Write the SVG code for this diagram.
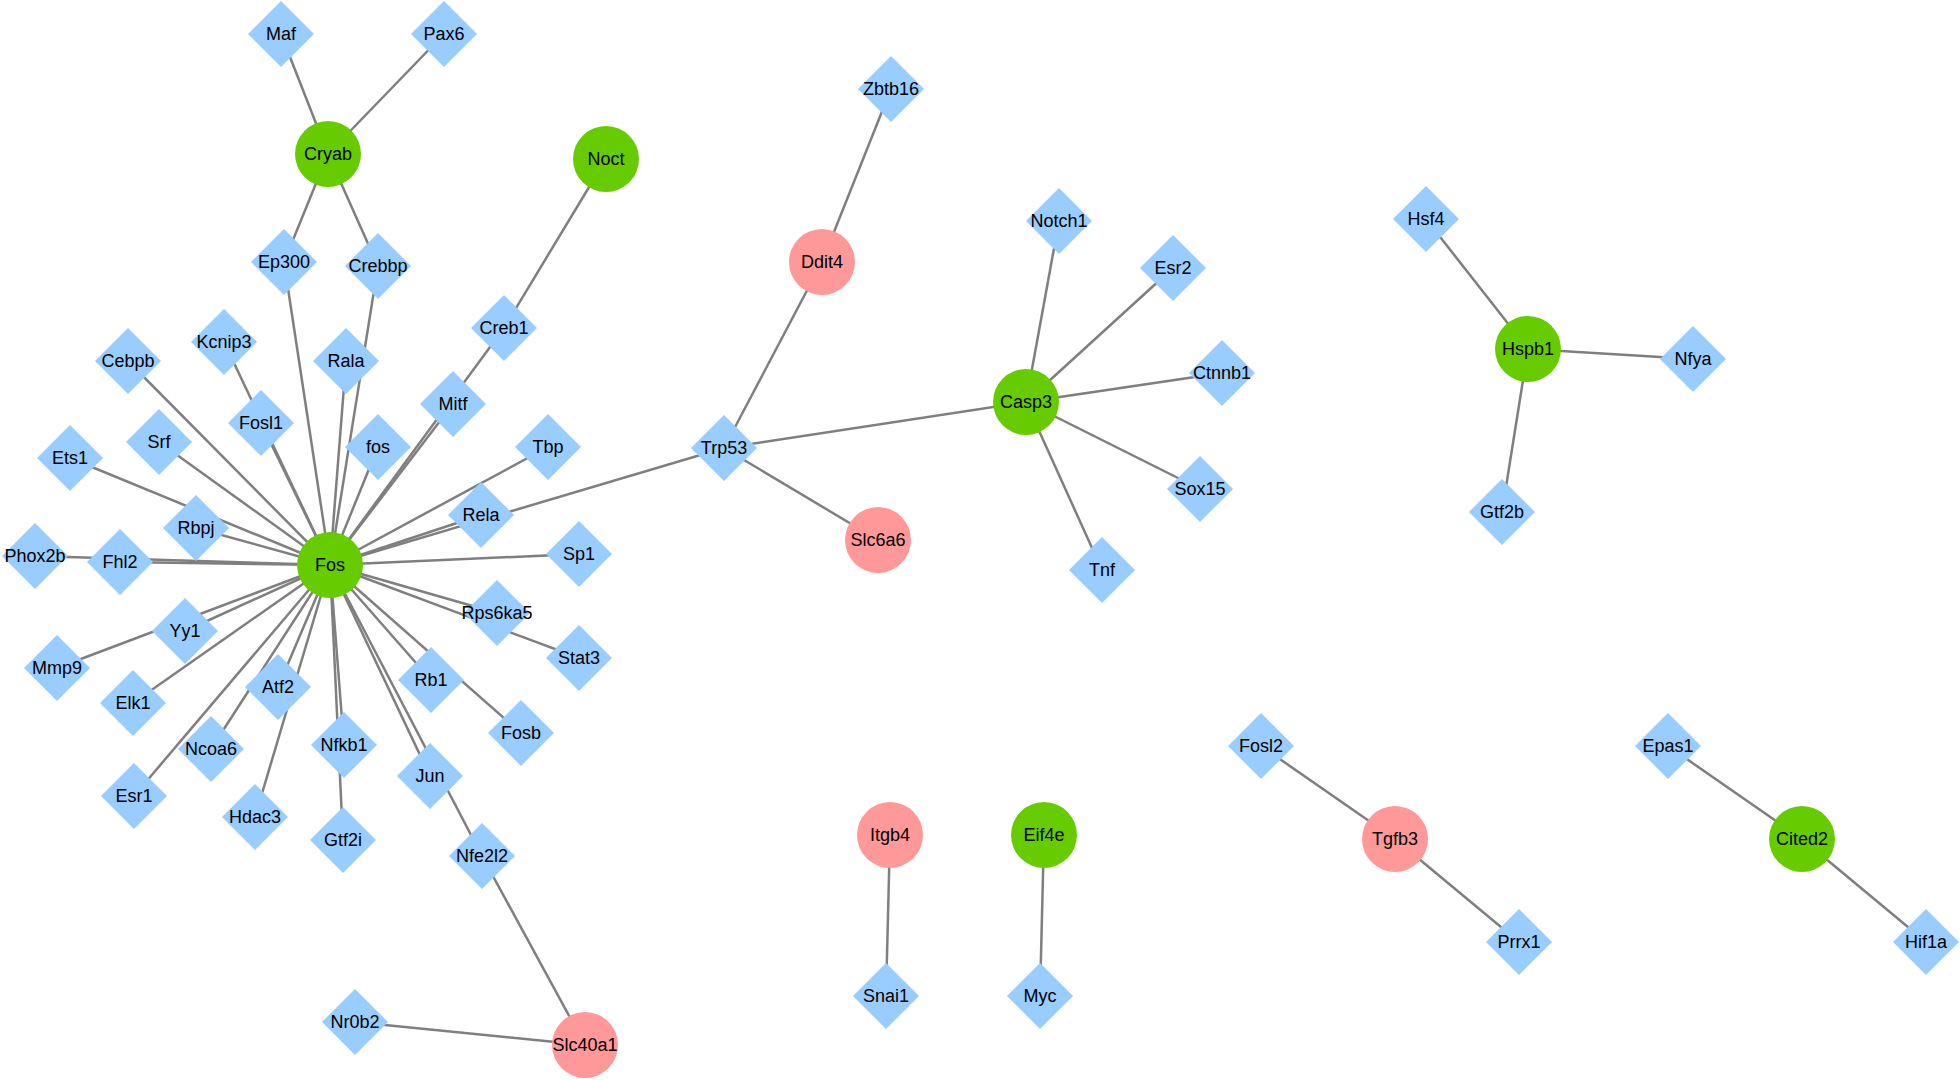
<svg xmlns="http://www.w3.org/2000/svg" xmlns:xlink="http://www.w3.org/1999/xlink" width="1960" height="1080" viewBox="0 0 1960 1080">
<style>
.e{stroke:#7f7f7f;stroke-width:2.5;fill:none}
.d{fill:#99ccff}
.g{fill:#66cc00}
.p{fill:#ff9999}
text{font-family:"Liberation Sans",Arial,sans-serif;font-size:18px;fill:#000;text-anchor:middle;dominant-baseline:central}
</style>
<defs>
<polygon id="dia" points="0,-33 33,0 0,33 -33,0"/>
<circle id="cir" r="33"/>
</defs>
<rect width="1960" height="1080" fill="#fff"/>
<g id="edges" class="e">
<line x1="328" y1="154" x2="281" y2="34"/>
<line x1="328" y1="154" x2="444" y2="34"/>
<line x1="328" y1="154" x2="284" y2="262"/>
<line x1="328" y1="154" x2="378" y2="266"/>
<line x1="606" y1="159" x2="504" y2="328"/>
<line x1="330" y1="565" x2="284" y2="262"/>
<line x1="330" y1="565" x2="378" y2="266"/>
<line x1="330" y1="565" x2="346" y2="361"/>
<line x1="330" y1="565" x2="224" y2="342"/>
<line x1="330" y1="565" x2="261" y2="423"/>
<line x1="330" y1="565" x2="128" y2="361"/>
<line x1="330" y1="565" x2="159" y2="442"/>
<line x1="330" y1="565" x2="378" y2="447"/>
<line x1="330" y1="565" x2="453" y2="404"/>
<line x1="330" y1="565" x2="504" y2="328"/>
<line x1="330" y1="565" x2="548" y2="447"/>
<line x1="330" y1="565" x2="481" y2="515"/>
<line x1="330" y1="565" x2="724" y2="448"/>
<line x1="330" y1="565" x2="579" y2="554"/>
<line x1="330" y1="565" x2="497" y2="613"/>
<line x1="330" y1="565" x2="579" y2="658"/>
<line x1="330" y1="565" x2="431" y2="680"/>
<line x1="330" y1="565" x2="521" y2="733"/>
<line x1="330" y1="565" x2="430" y2="776"/>
<line x1="330" y1="565" x2="482" y2="856"/>
<line x1="330" y1="565" x2="344" y2="745"/>
<line x1="330" y1="565" x2="343" y2="840"/>
<line x1="330" y1="565" x2="278" y2="687"/>
<line x1="330" y1="565" x2="255" y2="817"/>
<line x1="330" y1="565" x2="211" y2="749"/>
<line x1="330" y1="565" x2="134" y2="796"/>
<line x1="330" y1="565" x2="133" y2="703"/>
<line x1="330" y1="565" x2="185" y2="631"/>
<line x1="330" y1="565" x2="57" y2="668"/>
<line x1="330" y1="565" x2="120" y2="562"/>
<line x1="330" y1="565" x2="35" y2="556"/>
<line x1="330" y1="565" x2="196" y2="528"/>
<line x1="330" y1="565" x2="70" y2="458"/>
<line x1="482" y1="856" x2="585" y2="1045"/>
<line x1="355" y1="1022" x2="585" y2="1045"/>
<line x1="724" y1="448" x2="822" y2="262"/>
<line x1="822" y1="262" x2="891" y2="89"/>
<line x1="724" y1="448" x2="878" y2="540"/>
<line x1="724" y1="448" x2="1026" y2="402"/>
<line x1="1026" y1="402" x2="1059" y2="221"/>
<line x1="1026" y1="402" x2="1173" y2="268"/>
<line x1="1026" y1="402" x2="1222" y2="373"/>
<line x1="1026" y1="402" x2="1200" y2="489"/>
<line x1="1026" y1="402" x2="1102" y2="570"/>
<line x1="1528" y1="349" x2="1426" y2="219"/>
<line x1="1528" y1="349" x2="1693" y2="359"/>
<line x1="1528" y1="349" x2="1502" y2="512"/>
<line x1="890" y1="835" x2="886" y2="996"/>
<line x1="1044" y1="835" x2="1040" y2="996"/>
<line x1="1395" y1="839" x2="1261" y2="746"/>
<line x1="1395" y1="839" x2="1519" y2="942"/>
<line x1="1802" y1="839" x2="1668" y2="746"/>
<line x1="1802" y1="839" x2="1926" y2="942"/>
</g>
<g id="n-Maf" transform="translate(281,34)"><use xlink:href="#dia" class="d"/><text>Maf</text></g>
<g id="n-Pax6" transform="translate(444,34)"><use xlink:href="#dia" class="d"/><text>Pax6</text></g>
<g id="n-Cryab" transform="translate(328,154)"><use xlink:href="#cir" class="g"/><text>Cryab</text></g>
<g id="n-Noct" transform="translate(606,159)"><use xlink:href="#cir" class="g"/><text>Noct</text></g>
<g id="n-Ep300" transform="translate(284,262)"><use xlink:href="#dia" class="d"/><text>Ep300</text></g>
<g id="n-Crebbp" transform="translate(378,266)"><use xlink:href="#dia" class="d"/><text>Crebbp</text></g>
<g id="n-Creb1" transform="translate(504,328)"><use xlink:href="#dia" class="d"/><text>Creb1</text></g>
<g id="n-Kcnip3" transform="translate(224,342)"><use xlink:href="#dia" class="d"/><text>Kcnip3</text></g>
<g id="n-Cebpb" transform="translate(128,361)"><use xlink:href="#dia" class="d"/><text>Cebpb</text></g>
<g id="n-Rala" transform="translate(346,361)"><use xlink:href="#dia" class="d"/><text>Rala</text></g>
<g id="n-Mitf" transform="translate(453,404)"><use xlink:href="#dia" class="d"/><text>Mitf</text></g>
<g id="n-Fosl1" transform="translate(261,423)"><use xlink:href="#dia" class="d"/><text>Fosl1</text></g>
<g id="n-Srf" transform="translate(159,442)"><use xlink:href="#dia" class="d"/><text>Srf</text></g>
<g id="n-fos" transform="translate(378,447)"><use xlink:href="#dia" class="d"/><text>fos</text></g>
<g id="n-Tbp" transform="translate(548,447)"><use xlink:href="#dia" class="d"/><text>Tbp</text></g>
<g id="n-Ets1" transform="translate(70,458)"><use xlink:href="#dia" class="d"/><text>Ets1</text></g>
<g id="n-Rbpj" transform="translate(196,528)"><use xlink:href="#dia" class="d"/><text>Rbpj</text></g>
<g id="n-Rela" transform="translate(481,515)"><use xlink:href="#dia" class="d"/><text>Rela</text></g>
<g id="n-Phox2b" transform="translate(35,556)"><use xlink:href="#dia" class="d"/><text>Phox2b</text></g>
<g id="n-Fhl2" transform="translate(120,562)"><use xlink:href="#dia" class="d"/><text>Fhl2</text></g>
<g id="n-Sp1" transform="translate(579,554)"><use xlink:href="#dia" class="d"/><text>Sp1</text></g>
<g id="n-Rps6ka5" transform="translate(497,613)"><use xlink:href="#dia" class="d"/><text>Rps6ka5</text></g>
<g id="n-Yy1" transform="translate(185,631)"><use xlink:href="#dia" class="d"/><text>Yy1</text></g>
<g id="n-Stat3" transform="translate(579,658)"><use xlink:href="#dia" class="d"/><text>Stat3</text></g>
<g id="n-Mmp9" transform="translate(57,668)"><use xlink:href="#dia" class="d"/><text>Mmp9</text></g>
<g id="n-Rb1" transform="translate(431,680)"><use xlink:href="#dia" class="d"/><text>Rb1</text></g>
<g id="n-Atf2" transform="translate(278,687)"><use xlink:href="#dia" class="d"/><text>Atf2</text></g>
<g id="n-Elk1" transform="translate(133,703)"><use xlink:href="#dia" class="d"/><text>Elk1</text></g>
<g id="n-Fosb" transform="translate(521,733)"><use xlink:href="#dia" class="d"/><text>Fosb</text></g>
<g id="n-Ncoa6" transform="translate(211,749)"><use xlink:href="#dia" class="d"/><text>Ncoa6</text></g>
<g id="n-Nfkb1" transform="translate(344,745)"><use xlink:href="#dia" class="d"/><text>Nfkb1</text></g>
<g id="n-Jun" transform="translate(430,776)"><use xlink:href="#dia" class="d"/><text>Jun</text></g>
<g id="n-Esr1" transform="translate(134,796)"><use xlink:href="#dia" class="d"/><text>Esr1</text></g>
<g id="n-Hdac3" transform="translate(255,817)"><use xlink:href="#dia" class="d"/><text>Hdac3</text></g>
<g id="n-Gtf2i" transform="translate(343,840)"><use xlink:href="#dia" class="d"/><text>Gtf2i</text></g>
<g id="n-Nfe2l2" transform="translate(482,856)"><use xlink:href="#dia" class="d"/><text>Nfe2l2</text></g>
<g id="n-Fos" transform="translate(330,565)"><use xlink:href="#cir" class="g"/><text>Fos</text></g>
<g id="n-Nr0b2" transform="translate(355,1022)"><use xlink:href="#dia" class="d"/><text>Nr0b2</text></g>
<g id="n-Slc40a1" transform="translate(585,1045)"><use xlink:href="#cir" class="p"/><text>Slc40a1</text></g>
<g id="n-Zbtb16" transform="translate(891,89)"><use xlink:href="#dia" class="d"/><text>Zbtb16</text></g>
<g id="n-Ddit4" transform="translate(822,262)"><use xlink:href="#cir" class="p"/><text>Ddit4</text></g>
<g id="n-Notch1" transform="translate(1059,221)"><use xlink:href="#dia" class="d"/><text>Notch1</text></g>
<g id="n-Esr2" transform="translate(1173,268)"><use xlink:href="#dia" class="d"/><text>Esr2</text></g>
<g id="n-Ctnnb1" transform="translate(1222,373)"><use xlink:href="#dia" class="d"/><text>Ctnnb1</text></g>
<g id="n-Casp3" transform="translate(1026,402)"><use xlink:href="#cir" class="g"/><text>Casp3</text></g>
<g id="n-Trp53" transform="translate(724,448)"><use xlink:href="#dia" class="d"/><text>Trp53</text></g>
<g id="n-Sox15" transform="translate(1200,489)"><use xlink:href="#dia" class="d"/><text>Sox15</text></g>
<g id="n-Slc6a6" transform="translate(878,540)"><use xlink:href="#cir" class="p"/><text>Slc6a6</text></g>
<g id="n-Tnf" transform="translate(1102,570)"><use xlink:href="#dia" class="d"/><text>Tnf</text></g>
<g id="n-Hsf4" transform="translate(1426,219)"><use xlink:href="#dia" class="d"/><text>Hsf4</text></g>
<g id="n-Hspb1" transform="translate(1528,349)"><use xlink:href="#cir" class="g"/><text>Hspb1</text></g>
<g id="n-Nfya" transform="translate(1693,359)"><use xlink:href="#dia" class="d"/><text>Nfya</text></g>
<g id="n-Gtf2b" transform="translate(1502,512)"><use xlink:href="#dia" class="d"/><text>Gtf2b</text></g>
<g id="n-Itgb4" transform="translate(890,835)"><use xlink:href="#cir" class="p"/><text>Itgb4</text></g>
<g id="n-Eif4e" transform="translate(1044,835)"><use xlink:href="#cir" class="g"/><text>Eif4e</text></g>
<g id="n-Snai1" transform="translate(886,996)"><use xlink:href="#dia" class="d"/><text>Snai1</text></g>
<g id="n-Myc" transform="translate(1040,996)"><use xlink:href="#dia" class="d"/><text>Myc</text></g>
<g id="n-Fosl2" transform="translate(1261,746)"><use xlink:href="#dia" class="d"/><text>Fosl2</text></g>
<g id="n-Tgfb3" transform="translate(1395,839)"><use xlink:href="#cir" class="p"/><text>Tgfb3</text></g>
<g id="n-Prrx1" transform="translate(1519,942)"><use xlink:href="#dia" class="d"/><text>Prrx1</text></g>
<g id="n-Epas1" transform="translate(1668,746)"><use xlink:href="#dia" class="d"/><text>Epas1</text></g>
<g id="n-Cited2" transform="translate(1802,839)"><use xlink:href="#cir" class="g"/><text>Cited2</text></g>
<g id="n-Hif1a" transform="translate(1926,942)"><use xlink:href="#dia" class="d"/><text>Hif1a</text></g>
</svg>
